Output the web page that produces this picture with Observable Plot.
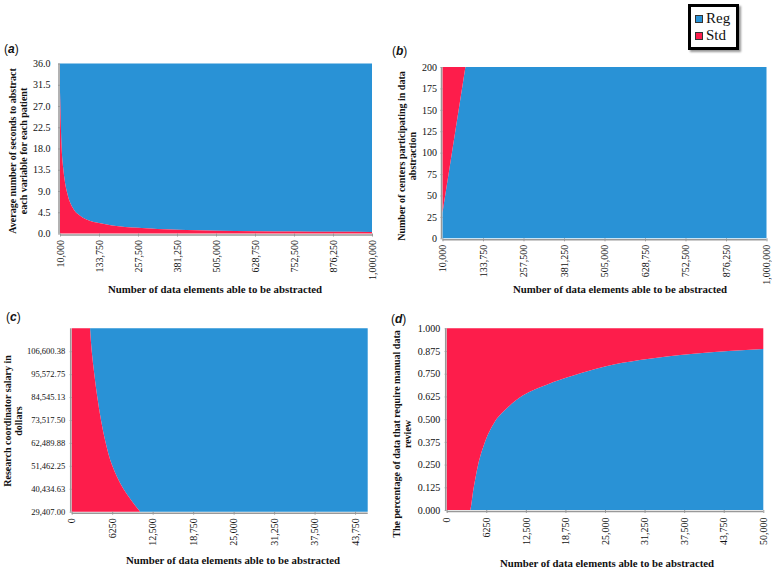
<!DOCTYPE html>
<html>
<head>
<meta charset="utf-8">
<script src="https://cdn.jsdelivr.net/npm/d3@7"></script>
<script src="https://cdn.jsdelivr.net/npm/@observablehq/plot@0.6"></script>
<style>
  body { margin: 0; background: #fff; }
  #fig { position: relative; width: 772px; height: 570px; overflow: hidden;
         font-family: "Liberation Serif", "Times New Roman", serif; color: #111; }
  #fig svg { position: absolute; left: 0; top: 0; }
  .ytitle { position: absolute; transform: translate(-50%, -50%) rotate(-90deg);
            text-align: center; white-space: nowrap; font-weight: bold; font-size: 10px; line-height: 11px; }
  .xtitle { position: absolute; transform: translate(-50%, -50%); white-space: nowrap;
            font-weight: bold; font-size: 10.8px; }
  .plab { position: absolute; font-family: "Liberation Sans", Arial, sans-serif; font-size: 12px; line-height: 12px; }
  .plab b { font-style: italic; }
  .legend { position: absolute; left: 688px; top: 4px; width: 45px; height: 40px;
            border: 3px solid #000; box-shadow: 2px 2px 2px #999; background: #fff; }
  .legend .row { position: absolute; left: 4px; display: flex; align-items: center;
                 font-size: 15px; line-height: 15px; }
  .legend .sw { width: 6px; height: 6px; border: 1px solid #333; margin-right: 3px; }
</style>
</head>
<body>
<div id="fig"></div>
<script>
// ---------- data ----------
const seriesNames = ["Reg", "Std"];
const seriesColors = ["#2992d6", "#fd1d4b"];

// (a) average seconds per variable per patient vs. number of data elements
const aElements = [10000, 15000, 20000, 25000, 35000, 50000, 75000, 100000, 133750, 175000, 257500, 381250, 505000, 628750, 752500, 876250, 1000000];
const aStdSeconds = [30, 18.5, 14, 11.2, 8, 5.5, 3.7, 2.8, 2.2, 1.7, 1.2, 0.8, 0.6, 0.5, 0.4, 0.35, 0.3];
const aXTicks = [10000, 133750, 257500, 381250, 505000, 628750, 752500, 876250, 1000000];
const aXLabels = ["10,000", "133,750", "257,500", "381,250", "505,000", "628,750", "752,500", "876,250", "1,000,000"];
const aYTicks = [0, 4.5, 9, 13.5, 18, 22.5, 27, 31.5, 36];
const aYLabels = ["0.0", "4.5", "9.0", "13.5", "18.0", "22.5", "27.0", "31.5", "36.0"];

// (b) number of centers participating vs. number of data elements
const bElements = [10000, 45000, 80000, 1000000];
const bStdCenters = [30, 115, 200, 200];
const bXTicks = aXTicks;
const bXLabels = aXLabels;
const bYTicks = [0, 25, 50, 75, 100, 125, 150, 175, 200];
const bYLabels = ["0", "25", "50", "75", "100", "125", "150", "175", "200"];

// (c) research coordinator salary vs. number of data elements
const cSalary = [29407, 40434.63, 51462.25, 62489.88, 73517.5, 84545.13, 95572.75, 106600.38, 117628];
const cStdElements = [10550, 7970, 6270, 5250, 4520, 3950, 3490, 3090, 2830];
const cXTicks = [0, 6250, 12500, 18750, 25000, 31250, 37500, 43750];
const cXLabels = ["0", "6250", "12,500", "18,750", "25,000", "31,250", "37,500", "43,750"];
const cYTicks = [29407, 40434.63, 51462.25, 62489.88, 73517.5, 84545.13, 95572.75, 106600.38];
const cYLabels = ["29,407.00", "40,434.63", "51,462.25", "62,489.88", "73,517.50", "84,545.13", "95,572.75", "106,600.38"];

// (d) share of data requiring manual review vs. number of data elements
const dElements = [0, 3680, 4200, 4900, 6000, 7500, 9500, 12000, 15800, 20000, 25000, 30500, 39000, 50000];
const dRegShare = [0, 0, 0.11, 0.24, 0.37, 0.48, 0.56, 0.63, 0.69, 0.74, 0.79, 0.825, 0.86, 0.886];
const dXTicks = [0, 6250, 12500, 18750, 25000, 31250, 37500, 43750, 50000];
const dXLabels = ["0", "6250", "12,500", "18,750", "25,000", "31,250", "37,500", "43,750", "50,000"];
const dYTicks = [0, 0.125, 0.25, 0.375, 0.5, 0.625, 0.75, 0.875, 1];
const dYLabels = ["0.000", "0.125", "0.250", "0.375", "0.500", "0.625", "0.750", "0.875", "1.000"];

// ---------- drawing ----------
const REG = seriesColors[0], STD = seriesColors[1];
const W = 772, H = 570;
const fig = document.getElementById("fig");

function fmt(ticks, labels) {
  const m = new Map(ticks.map((t, i) => [t, labels[i]]));
  return d => m.get(d);
}

function panel(o) {
  const b = o.box;
  return Plot.plot({
    width: W, height: H,
    marginLeft: b.left, marginRight: W - b.right, marginTop: b.top, marginBottom: H - b.bottom,
    style: { background: "transparent", overflow: "visible", fontFamily: '"Liberation Serif", "Times New Roman", serif' },
    x: { domain: o.xDomain },
    y: { domain: o.yDomain },
    marks: [
      ...o.marks,
      Plot.ruleX([o.xDomain[0]], { stroke: "#999", strokeWidth: 1.5, dx: -1.5 }),
      Plot.ruleY([o.yDomain[0]], { stroke: "#999", strokeWidth: 1.5, dy: 1 }),
      Plot.axisX({ ticks: o.xTicks, tickFormat: fmt(o.xTicks, o.xLabels), tickRotate: -90, tickSize: 3,
                   tickPadding: o.xPad ?? 3, fontSize: o.xFont ?? 10, stroke: "#999", label: null }),
      Plot.axisY({ ticks: o.yTicks, tickFormat: fmt(o.yTicks, o.yLabels), tickSize: 2,
                   tickPadding: o.yPad ?? 6, fontSize: o.yFont ?? 10, stroke: "#999", label: null })
    ]
  });
}

const aData = aElements.map((x, i) => ({ x, y: aStdSeconds[i] }));
const bData = bElements.map((x, i) => ({ x, y: bStdCenters[i] }));
const cData = cSalary.map((y, i) => ({ y, x: cStdElements[i] }));
const dData = dElements.map((x, i) => ({ x, y: dRegShare[i] }));

const panels = [
  panel({
    box: { left: 60, right: 372, top: 63.5, bottom: 233.5 },
    xDomain: [10000, 1000000], yDomain: [0, 36],
    xTicks: aXTicks, xLabels: aXLabels, yTicks: aYTicks, yLabels: aYLabels, yPad: 8,
    marks: [
      Plot.areaY(aData, { x: "x", y1: "y", y2: 36, fill: REG, curve: "monotone-x" }),
      Plot.areaY(aData, { x: "x", y1: 0, y2: "y", fill: STD, curve: "monotone-x" })
    ]
  }),
  panel({
    box: { left: 442.5, right: 766.5, top: 67, bottom: 238.3 },
    xDomain: [10000, 1000000], yDomain: [0, 200],
    xTicks: bXTicks, xLabels: bXLabels, yTicks: bYTicks, yLabels: bYLabels, yPad: 4,
    marks: [
      Plot.areaY(bData, { x: "x", y1: 0, y2: "y", fill: REG }),
      Plot.areaY(bData, { x: "x", y1: "y", y2: 200, fill: STD })
    ]
  }),
  panel({
    box: { left: 71.7, right: 367.7, top: 328.3, bottom: 511.7 },
    xDomain: [0, 45700], yDomain: [29407, 117628],
    xTicks: cXTicks, xLabels: cXLabels, yTicks: cYTicks, yLabels: cYLabels, yFont: 8.5, yPad: 5,
    marks: [
      Plot.areaX(cData, { y: "y", x1: "x", x2: 45700, fill: REG, curve: "monotone-y" }),
      Plot.areaX(cData, { y: "y", x1: 0, x2: "x", fill: STD, curve: "monotone-y" })
    ]
  }),
  panel({
    box: { left: 446.7, right: 763.3, top: 328.3, bottom: 510 },
    xDomain: [0, 50000], yDomain: [0, 1],
    xTicks: dXTicks, xLabels: dXLabels, yTicks: dYTicks, yLabels: dYLabels, yPad: 5, xPad: 4,
    marks: [
      Plot.areaY(dData, { x: "x", y1: 0, y2: "y", fill: REG, curve: "monotone-x" }),
      Plot.areaY(dData, { x: "x", y1: "y", y2: 1, fill: STD, curve: "monotone-x" })
    ]
  })
];
panels.forEach(p => fig.appendChild(p));

// titles (HTML text)
function addDiv(cls, html, left, top) {
  const d = document.createElement("div");
  d.className = cls; d.innerHTML = html;
  d.style.left = left + "px"; d.style.top = top + "px";
  fig.appendChild(d);
  return d;
}
const xTitle = "Number of data elements able to be abstracted";
addDiv("xtitle", xTitle, 215, 289);
addDiv("xtitle", xTitle, 620, 289);
addDiv("xtitle", xTitle, 233, 560);
addDiv("xtitle", xTitle, 607, 563);
addDiv("ytitle", "Average number of seconds to abstract<br>each variable for each patient", 17.5, 151);
addDiv("ytitle", "Number of centers participating in data<br>abstraction", 406.5, 156);
addDiv("ytitle", "Research coordinator salary in<br>dollars", 13, 421);
addDiv("ytitle", "The percentage of data that require manual data<br>review", 402, 434);

addDiv("plab", "(<b>a</b>)", 4, 43);
addDiv("plab", "(<b>b</b>)", 392, 45);
addDiv("plab", "(<b>c</b>)", 6, 311);
addDiv("plab", "(<b>d</b>)", 391, 313);

// legend
const lg = document.createElement("div");
lg.className = "legend";
seriesNames.forEach((name, i) => {
  const r = document.createElement("div");
  r.className = "row";
  r.style.top = (4 + i * 17) + "px";
  r.innerHTML = `<span class="sw" style="background:${seriesColors[i]}"></span><span>${name}</span>`;
  lg.appendChild(r);
});
fig.appendChild(lg);
</script>
</body>
</html>
